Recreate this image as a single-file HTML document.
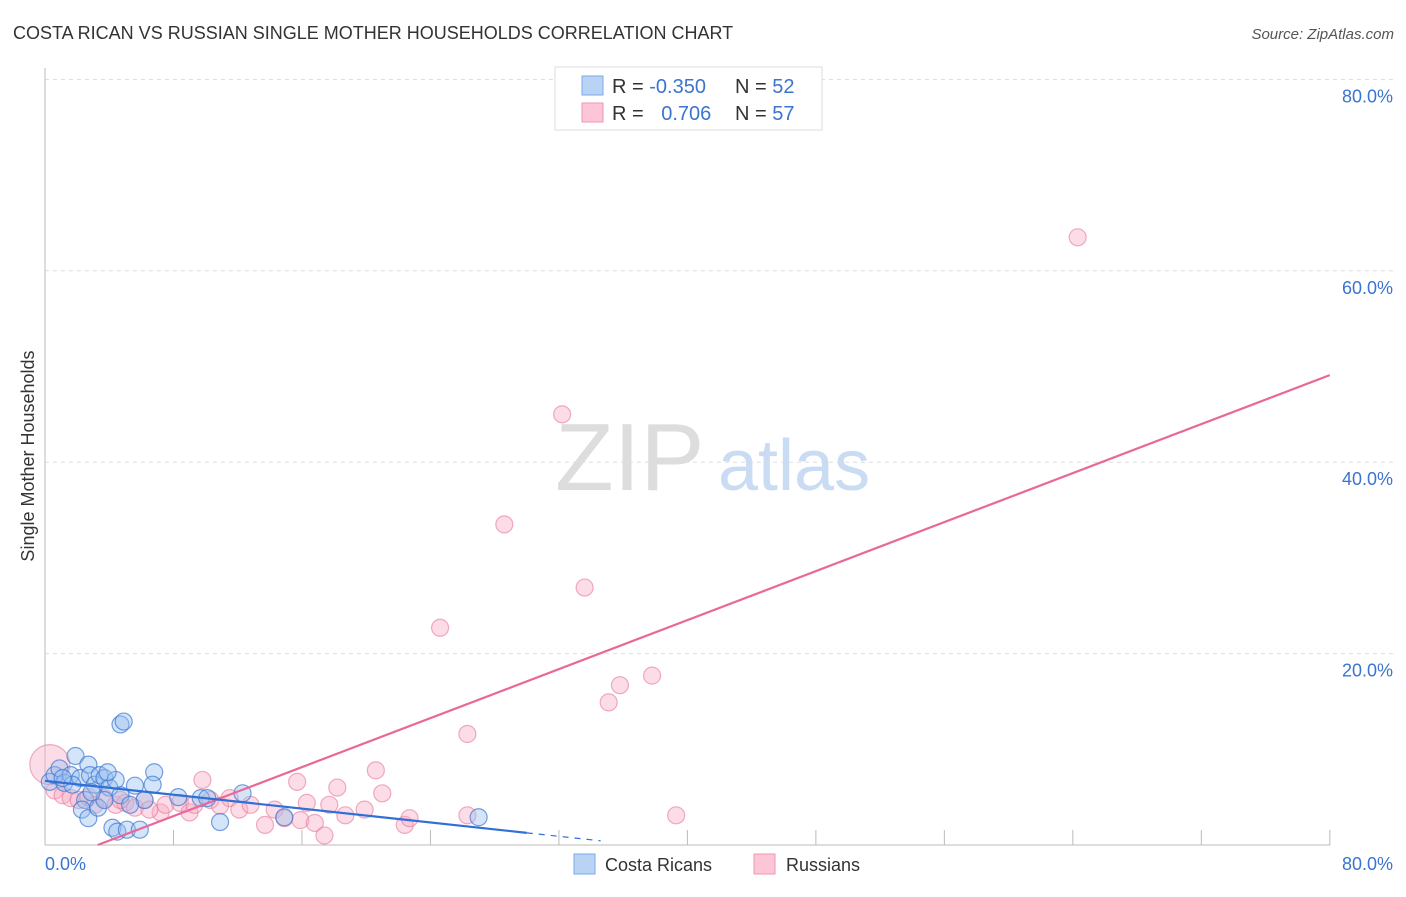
<!DOCTYPE html>
<html><head><meta charset="utf-8"><style>
body{margin:0;background:#fff;font-family:"Liberation Sans",sans-serif;}
svg text{font-family:"Liberation Sans",sans-serif;}
</style></head><body>
<svg id="chart" width="1406" height="892" viewBox="0 0 1406 892">
<text x="13" y="39" font-size="18" fill="#333">COSTA RICAN VS RUSSIAN SINGLE MOTHER HOUSEHOLDS CORRELATION CHART</text>
<text x="1394" y="39" font-size="15" fill="#555" font-style="italic" text-anchor="end">Source: ZipAtlas.com</text>
<text transform="translate(34,456) rotate(-90)" font-size="18" fill="#333" text-anchor="middle">Single Mother Households</text>
<g id="grid"></g>
<g><text x="555" y="490" font-size="96" fill="#ddd" font-family="Liberation Serif">ZIP</text><text x="718" y="490" font-size="72" fill="#c9dcf3">atlas</text></g>
<g id="pts"></g>
<g id="lines"></g>
<g>
<rect x="555" y="67" width="267" height="63" fill="#fff" stroke="#ddd"/>
<rect x="582" y="76" width="21" height="19" fill="#b9d3f5" stroke="#7aa8e6"/>
<rect x="582" y="103" width="21" height="19" fill="#fcc6d6" stroke="#ee95b1"/>
<text x="612" y="93" font-size="20" fill="#333">R = <tspan fill="#3b74d0">-0.350</tspan></text>
<text x="735" y="93" font-size="20" fill="#333">N = <tspan fill="#3b74d0">52</tspan></text>
<text x="612" y="120" font-size="20" fill="#333">R = <tspan fill="#3b74d0" dx="12">0.706</tspan></text>
<text x="735" y="120" font-size="20" fill="#333">N = <tspan fill="#3b74d0">57</tspan></text>
</g>
<g>
<rect x="574" y="854" width="21" height="20" fill="#b9d3f5" stroke="#7aa8e6"/>
<text x="605" y="871" font-size="18" fill="#333">Costa Ricans</text>
<rect x="754" y="854" width="21" height="20" fill="#fcc6d6" stroke="#ee95b1"/>
<text x="786" y="871" font-size="18" fill="#333">Russians</text>
</g>
</svg>
<script>
const yTicks=[20,40,60,80];
const xTickLabels=["0.0%","80.0%"];
const blueX=[0.3,0.6,0.9,1.2,1.6,1.9,2.2,2.7,2.8,3.1,3.4,3.7,4.0,4.4,4.7,2.5,2.3,2.7,3.3,3.7,4.2,4.5,5.1,5.9,4.7,4.9,6.8,6.7,5.6,6.2,8.3,9.7,10.1,10.9,12.3,14.9,27.0,5.3,1.7,2.9,3.9,1.1];
const blueY=[6.6,7.3,8.0,6.5,7.3,9.3,7.0,8.4,7.3,6.3,7.3,7.0,6.0,6.8,5.2,4.7,3.7,2.8,3.9,4.7,1.8,1.4,1.6,1.6,12.6,12.9,7.6,6.3,6.2,4.7,5.0,4.9,4.9,2.4,5.4,2.9,2.9,4.2,6.3,5.5,7.6,7.0];
const pinkX=[0.3,0.6,1.1,1.6,2.1,2.7,3.1,3.7,4.4,5.0,5.6,6.2,7.2,7.5,8.4,9.0,9.8,10.3,10.9,11.5,12.1,12.8,13.7,14.3,14.9,15.7,15.9,16.3,16.8,17.4,17.7,18.2,18.7,19.9,20.6,21.0,22.4,22.7,24.6,26.3,26.3,28.6,32.2,33.6,35.1,35.8,37.8,39.3,64.3,6.5,9.3,4.7];
const pinkY=[8.4,5.7,5.2,4.9,4.7,5.0,4.2,4.9,4.2,4.4,3.9,4.7,3.4,4.2,4.4,3.4,6.8,4.7,4.1,4.9,3.7,4.2,2.1,3.7,2.8,6.6,2.6,4.4,2.3,1.0,4.2,6.0,3.1,3.7,7.8,5.4,2.1,2.8,22.7,3.1,11.6,33.5,45.0,26.9,14.9,16.7,17.7,3.1,63.5,3.7,4.2,4.7];
const blueTrend=[6.7,-0.181];
const pinkTrend=[-2.1,0.64];
const X=v=>45+v*16.06, Y=v=>845-v*9.57;
const NS="http://www.w3.org/2000/svg";
function mk(p,t,a){const e=document.createElementNS(NS,t);for(const k in a)e.setAttribute(k,a[k]);p.appendChild(e);return e;}
const g=document.getElementById('grid');
yTicks.forEach(t=>{
 const l=mk(g,'line',{x1:45,x2:1395,y1:Y(t),y2:Y(t),stroke:'#ddd','stroke-dasharray':'4,4'});
 
 
 const tx=mk(g,'text',{x:1393,y:Y(t)+23,'font-size':18,fill:'#3b74d0','text-anchor':'end'});tx.textContent=t.toFixed(1)+'%';
 
 
});
const ax=mk(g,'line',{x1:45,x2:45,y1:68,y2:845,stroke:'#bbb'});


const bx=mk(g,'line',{x1:45,x2:1330,y1:845,y2:845,stroke:'#bbb'});


for(let i=1;i<=10;i++){const t=mk(g,'line',{x1:X(i*8),x2:X(i*8),y1:845,y2:830,stroke:'#bbb'});
 
 }
[[0,'start',45],[80,'end',1393]].forEach((d,i)=>{const t=mk(g,'text',{x:d[2],y:870,'font-size':18,fill:'#3b74d0','text-anchor':d[1]});t.textContent=xTickLabels[i];
 
 });
const pg=document.getElementById('pts');
pinkX.forEach((x,i)=>{const c=mk(pg,'circle',{cx:X(x),cy:Y(pinkY[i]),r:i===0?20:8.5,fill:'rgba(248,170,195,0.4)',stroke:'rgba(230,120,155,0.6)','stroke-width':1.2});
 
 });
blueX.forEach((x,i)=>{const c=mk(pg,'circle',{cx:X(x),cy:Y(blueY[i]),r:8.5,fill:'rgba(150,190,240,0.4)',stroke:'rgba(60,120,210,0.7)','stroke-width':1.2});
 
 });
const lg=document.getElementById('lines');
const x0=-pinkTrend[0]/pinkTrend[1];
const pl=mk(lg,'line',{x1:X(x0),y1:Y(0),x2:X(80),y2:Y(pinkTrend[0]+pinkTrend[1]*80),stroke:'#e8689a','stroke-width':2.2});


const bl=mk(lg,'line',{x1:X(0),y1:Y(blueTrend[0]),x2:X(30),y2:Y(blueTrend[0]+blueTrend[1]*30),stroke:'#2f6fd6','stroke-width':2.2});


const bd=mk(lg,'line',{x1:X(30),y1:Y(blueTrend[0]+blueTrend[1]*30),x2:X(34.6),y2:Y(blueTrend[0]+blueTrend[1]*34.6),stroke:'#2f6fd6','stroke-width':1.2,'stroke-dasharray':'6,6'});


</script>
</body></html>
